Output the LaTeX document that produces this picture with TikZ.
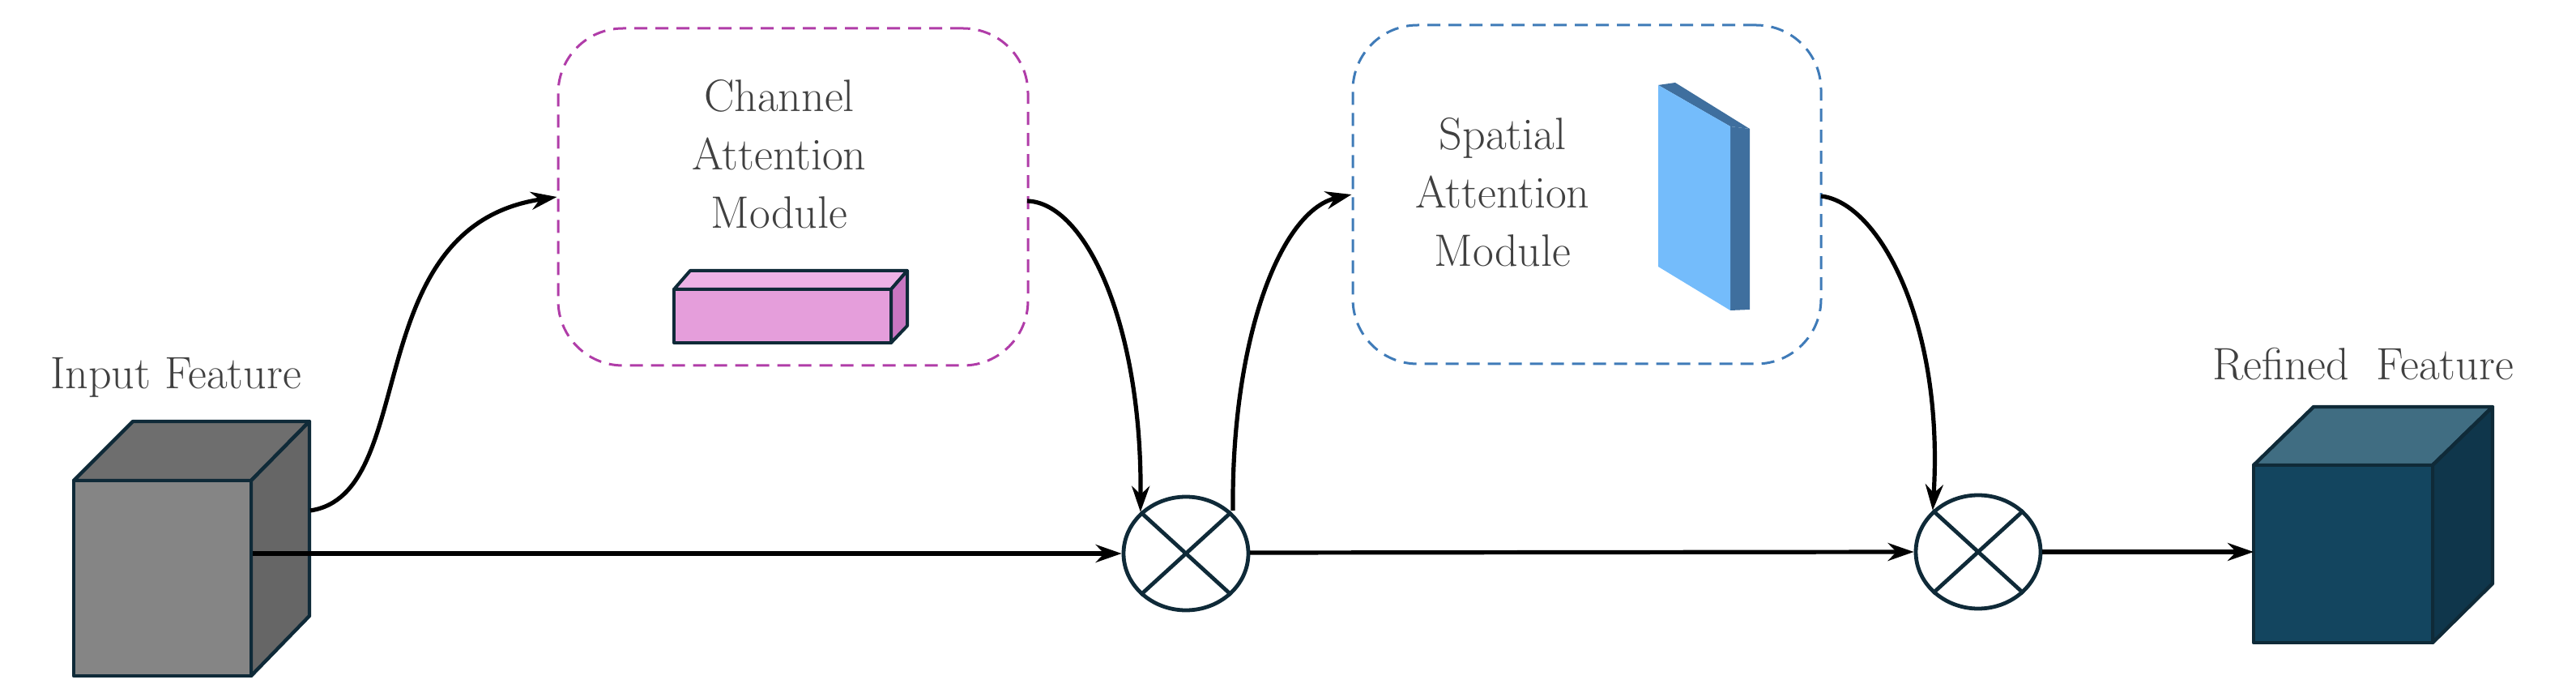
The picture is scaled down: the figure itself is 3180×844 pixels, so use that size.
\documentclass[tikz,border=0pt]{standalone}
\usetikzlibrary{arrows.meta,shapes.geometric}
\definecolor{pinkd}{HTML}{B03CA8}
\definecolor{blued}{HTML}{3F7BB8}
\definecolor{edge}{HTML}{0F2A38}
\definecolor{pinkf}{HTML}{E59EDB}
\definecolor{pinkt}{HTML}{EDB2E6}
\definecolor{bluef}{HTML}{74BCFB}
\definecolor{blues}{HTML}{3F6F9E}
\definecolor{tealf}{HTML}{13455F}
\definecolor{tealt}{HTML}{406D82}
\definecolor{teals}{HTML}{0F364B}
\begin{document}
\begin{tikzpicture}[x=0.5pt,y=-0.5pt,
  lbl/.style={font=\fontsize{28}{34}\selectfont,text=black!75},
  arr/.style={-{Stealth[length=16pt,width=11pt]},line width=2.6pt},
  modbox/.style={draw,dashed,line width=1.5pt,rounded corners=40pt,dash pattern=on 8pt off 5pt},
  mult/.style={ellipse,draw=edge,line width=2.4pt,minimum width=77pt,minimum height=70pt,inner sep=0pt},
  cubeedge/.style={draw=edge,line width=2.2pt,line join=round}]
\useasboundingbox (0,0) rectangle (3180,844);
% input cube
\filldraw[cubeedge,fill=black!57] (91,593) -- (164,520) -- (382,520) -- (310,593) -- cycle;
\filldraw[cubeedge,fill=black!60] (310,593) -- (382,520) -- (382,760) -- (310,834) -- cycle;
\filldraw[cubeedge,fill=black!48] (91,593) rectangle (310,834);
\node[inner sep=0pt,minimum width=219pt/2,minimum height=241pt/2] (in) at (200,713) {};
\node[lbl] (inl) at (217,466) {Input Feature};
% channel box
\node[modbox,draw=pinkd,minimum width=290pt,minimum height=208pt] (cam) at (979,243) {};
\node[lbl,align=center] at (962,190) {Channel\\[2pt]Attention\\[2pt]Module};
\filldraw[cubeedge,line width=2pt,fill=pinkt] (832,357) -- (852,334) -- (1120,334) -- (1100,357) -- cycle;
\filldraw[cubeedge,line width=2pt,fill=pinkd!70] (1100,357) -- (1120,334) -- (1120,402) -- (1100,423) -- cycle;
\filldraw[cubeedge,line width=2pt,fill=pinkf] (832,357) rectangle (1100,423);
% spatial box
\node[modbox,draw=blued,minimum width=289pt,minimum height=209pt] (sam) at (1959,240) {};
\node[lbl,align=center] at (1855,237) {Spatial\\[2pt]Attention\\[2pt]Module};
\fill[blues] (2047,105) -- (2068,102) -- (2160,159) -- (2136,156) -- cycle;
\fill[blues] (2136,156) -- (2160,159) -- (2160,382) -- (2136,383) -- cycle;
\fill[bluef] (2047,105) -- (2136,156) -- (2136,383) -- (2047,329) -- cycle;
% mult nodes
\node[mult] (m1) at (1464,683) {};
\draw[edge,line width=2.4pt] (m1.north east) -- (m1.south west) (m1.north west) -- (m1.south east);
\node[mult] (m2) at (2442,681) {};
\draw[edge,line width=2.4pt] (m2.north east) -- (m2.south west) (m2.north west) -- (m2.south east);
% refined cube
\filldraw[cubeedge,fill=tealt] (2782,574) -- (2856,502) -- (3077,502) -- (3003,574) -- cycle;
\filldraw[cubeedge,fill=teals] (3003,574) -- (3077,502) -- (3077,720) -- (3003,793) -- cycle;
\filldraw[cubeedge,fill=tealf] (2782,574) rectangle (3003,793);
\node[inner sep=0pt,minimum width=221pt/2,minimum height=219pt/2] (out) at (2892,683) {};
\node[lbl] (outl) at (2917,449) {Refined\ \ Feature};
% connectors
\coordinate (a0) at (312,683);
\coordinate (c0) at (383,630);
\coordinate (c1) at (1268,248);
\coordinate (c2) at (1522,630);
\coordinate (c3) at (2248,242);
\coordinate (b1) at (1543,682);
\coordinate (b2) at (2521,681);
\draw[arr] (a0) -- (m1.west);
\draw[arr] (c0) .. controls (520,610) and (440,280) .. (cam.west);
\draw[arr] (c1) .. controls (1340,250) and (1410,400) .. (m1.north west);
\draw[arr] (c2) .. controls (1520,420) and (1580,260) .. (sam.west);
\draw[arr] (c3) .. controls (2320,250) and (2400,400) .. (m2.north west);
\draw[arr] (b1) -- (m2.west);
\draw[arr] (b2) -- (2782,681);
\end{tikzpicture}
\end{document}
